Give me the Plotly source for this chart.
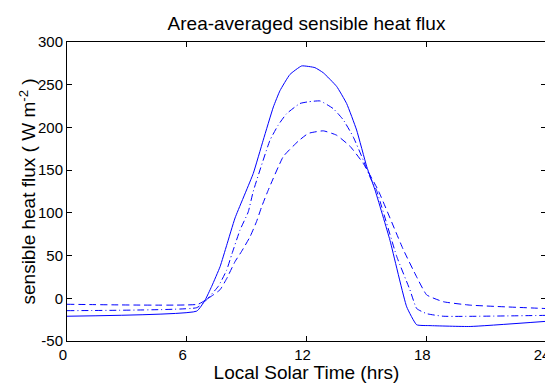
import plotly.graph_objects as go

# Local solar time (hrs) and sensible heat flux (W m^-2) for three cases
hrs_solid = [0, 6.5, 6.9, 7.25, 7.67, 8.0, 8.42, 9.33, 9.83, 10.34, 10.67, 11.17, 11.76,
             12.42, 12.84, 13.51, 14.01, 14.51, 15.02, 15.43, 16.18, 17.02, 17.52, 18.19, 20.2, 24]
flux_solid = [-21, -15, -3, 14, 37, 62, 94, 146, 185, 224, 243, 262, 272,
              270, 264, 248, 228, 197, 154, 127, 68, -10, -31, -32, -33, -27]

hrs_dashdot = [0, 6.5, 6.9, 7.58, 8.0, 8.25, 8.67, 9.08, 9.33, 10.17, 10.59, 11.0, 11.67, 12.09,
               12.68, 13.34, 13.84, 14.34, 14.84, 15.18, 15.5, 16.52, 17.18, 17.52, 18.02, 18.85, 24]
flux_dashdot = [-14.5, -11, -4, 14, 33, 51, 80, 101, 125, 185, 203, 216, 228, 230,
                231, 222, 209, 189, 162, 142, 127, 49, 10, -12, -18, -21, -20]

hrs_dash = [0, 6.56, 6.95, 7.33, 7.67, 8.0, 8.42, 8.75, 9.17, 9.5, 9.75, 10.09, 10.84, 11.59,
            12.09, 12.84, 13.5, 14.18, 14.84, 15.58, 16.85, 17.52, 18.02, 18.85, 20.19, 24]
flux_dash = [-7, -7, -2, 4, 10, 23, 43, 55, 72, 90, 107, 127, 166, 184,
             193, 196, 191, 178, 158, 127, 57, 25, 4, -4, -8, -12]

x_ticks = [0, 6, 12, 18, 24]
y_ticks = [-50, 0, 50, 100, 150, 200, 250, 300]
y_title = "sensible heat flux ( W m<sup>-2</sup> )"

blue = "#0000ff"
fig = go.Figure()
fig.add_trace(go.Scatter(x=hrs_solid, y=flux_solid, mode="lines",
                         line=dict(color=blue, width=1, dash="solid", shape="spline", smoothing=0.4)))
fig.add_trace(go.Scatter(x=hrs_dashdot, y=flux_dashdot, mode="lines",
                         line=dict(color=blue, width=1, dash="7px,3px,1px,3px", shape="spline", smoothing=0.4)))
fig.add_trace(go.Scatter(x=hrs_dash, y=flux_dash, mode="lines",
                         line=dict(color=blue, width=1, dash="7px,4px", shape="spline", smoothing=0.4)))

# The page body adds an 8px offset; size the figure so the plot area lands
# at the same place as in the reference window.
W, H = 545, 375
font_family = "Liberation Sans, Arial, sans-serif"
fig.update_layout(
    width=W, height=H,
    margin=dict(l=59, r=7, t=34, b=42, autoexpand=False),
    paper_bgcolor="white", plot_bgcolor="white",
    showlegend=False,
    font=dict(family=font_family, color="black", size=15),
    title=dict(text="Area-averaged sensible heat flux", x=0.5, xref="paper", xanchor="center",
               y=1 - 15 / H, yref="container", yanchor="middle",
               font=dict(size=19, family=font_family, color="black")),
)
# y-axis title as a rotated annotation so it can sit closer to the tick labels
fig.add_annotation(text=y_title, xref="paper", yref="paper", x=0, y=0.5,
                   xanchor="center", yanchor="middle", xshift=-40, textangle=-90,
                   showarrow=False, font=dict(size=19, family=font_family, color="black"))
axis_common = dict(showgrid=False, zeroline=False, showline=True, linecolor="black",
                   linewidth=1, mirror="ticks", ticks="inside", ticklen=5,
                   tickcolor="black", tickfont=dict(size=15, family=font_family),
                   automargin=False, ticklabeloverflow="allow")
fig.update_xaxes(range=[0, 24], tickvals=x_ticks, ticktext=[str(v) for v in x_ticks],
                 ticklabelshift=-4,
                 title=dict(text="Local Solar Time (hrs)", standoff=5,
                            font=dict(size=19, family=font_family)),
                 **axis_common)
fig.update_yaxes(range=[-50, 300], tickvals=y_ticks, ticktext=[str(v) for v in y_ticks],
                 **axis_common)

fig.write_html("out.html")
